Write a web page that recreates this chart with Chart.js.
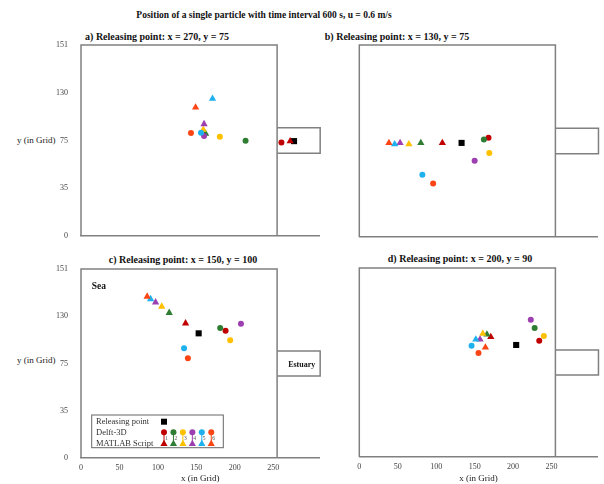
<!DOCTYPE html>
<html>
<head>
<meta charset="utf-8">
<script src="https://cdn.jsdelivr.net/npm/chart.js@4.4.1/dist/chart.umd.min.js"></script>
<style>
  body { margin: 0; background: #fff; }
  #page { position: relative; width: 604px; height: 484px; overflow: hidden; font-family: "Liberation Serif", "Times New Roman", serif; color: #111; }
  .lbl { position: absolute; width: 300px; text-align: center; line-height: 12px; white-space: nowrap; }
  .ttl { font-weight: bold; font-size: 10px; }
  .ylab { position: absolute; font-size: 9px; line-height: 12px; color: #222; white-space: nowrap; }
  canvas { position: absolute; }
</style>
</head>
<body>
<div id="page">
  <div class="lbl ttl" style="left:114px; top:9px; font-size:9.5px;">Position of a single particle with time interval 600 s, u = 0.6 m/s</div>
  <div class="lbl ttl" style="left:7px; top:31px;">a) Releasing point: x = 270, y = 75</div>
  <div class="lbl ttl" style="left:247px; top:31px;">b) Releasing point: x = 130, y = 75</div>
  <div class="lbl ttl" style="left:33px; top:254px;">c) Releasing point: x = 150, y = 100</div>
  <div class="lbl ttl" style="left:310px; top:253px;">d) Releasing point: x = 200, y = 90</div>
  <div class="ylab" style="left:17px; top:134px;">y (in Grid)</div>
  <div class="ylab" style="left:17px; top:354px;">y (in Grid)</div>

  <canvas id="chartA" width="330" height="210" style="left:0; top:40px;"></canvas>
  <canvas id="chartB" width="274" height="210" style="left:330px; top:40px;"></canvas>
  <canvas id="chartC" width="330" height="222" style="left:0; top:262px;"></canvas>
  <canvas id="chartD" width="274" height="222" style="left:330px; top:262px;"></canvas>
</div>

<script>
// particle colours 1..6
const particleColors = ["#c00000", "#2e7d32", "#ffc000", "#9c3fb0", "#1fb0ee", "#fb4515"];
const particleNumbers = ["1", "2", "3", "4", "5", "6"];

// y axis ticks are equally spaced but labelled like this in the original
const yTickLabels = ["0", "35", "75", "130", "151"];
const yMax = 151;
const xMax = 310;

// domain outline (sea box and estuary)
const boxX = [0, 0, 255, 255];
const boxY = [0, 151, 151, 0];
const estuaryX = [255, 311, 311, 255];
const estuaryY = [65.5, 65.5, 85.5, 85.5];

// a) releasing point x = 270, y = 75
const releaseA = [277, 75];
const delftAX = [260.6, 214, 180.5, 160, 156, 143];
const delftAY = [74, 75.3, 78.5, 79, 81.7, 81.4];
const matlabAX = [272, 162, 159, 160, 171, 149];
const matlabAY = [75, 81, 84, 88.5, 108.5, 101.7];

// b) releasing point x = 130, y = 75
const releaseB = [133, 74];
const delftBX = [168, 162, 169, 150, 82, 96];
const delftBY = [78, 76.6, 66, 60, 49, 42];
const matlabBX = [108, 80, 64.5, 53, 46, 38.5];
const matlabBY = [74, 74, 73, 74, 73, 74];

// c) releasing point x = 150, y = 100
const releaseC = [153, 99.6];
const delftCX = [188, 181, 194, 208, 134, 139];
const delftCY = [101.7, 103.8, 94, 107.3, 87.6, 79.6];
const matlabCX = [136, 114.7, 105, 97, 90.5, 86];
const matlabCY = [107.6, 116, 121, 124.4, 127, 129];

// d) releasing point x = 200, y = 90
const releaseD = [204, 89.5];
const delftDX = [234, 228, 240, 223, 146, 155];
const delftDY = [92.9, 103, 96.6, 109.7, 88.9, 83];
const matlabDX = [171, 166, 160.6, 157, 151.5, 164];
const matlabDY = [96, 98, 98.5, 94, 94, 87.6];

const outlineColor = "#808080";
const serif = "'Liberation Serif', 'Times New Roman', serif";

function toPoints(xs, ys){
  return xs.map((x, i) => ({ x: x, y: ys[i] }));
}

//text labels placed in data space (panel c only)
const areaLabels = {
  id: "areaLabels",
  afterDatasetsDraw(chart){
    const ctx = chart.ctx;
    const xs = chart.scales.x, ys = chart.scales.y;
    ctx.save();
    ctx.fillStyle = "#111";
    ctx.textBaseline = "middle";
    ctx.font = "bold 9.5px " + serif;
    ctx.textAlign = "left";
    ctx.fillText("Sea", xs.getPixelForValue(14), ys.getPixelForValue(136.6));
    ctx.font = "bold 8px " + serif;
    ctx.textAlign = "center";
    ctx.fillText("Estuary", xs.getPixelForValue(287), ys.getPixelForValue(74.3));
    ctx.restore();
  }
};

//custom legend box in panel c
const markerLegend = {
  id: "markerLegend",
  afterDraw(chart){
    const ctx = chart.ctx;
    const left = chart.chartArea.left + 10.7;
    const top = chart.chartArea.top + 146;
    const w = 131.6, h = 32.7;
    ctx.save();
    ctx.strokeStyle = "#666";
    ctx.lineWidth = 1;
    ctx.strokeRect(left, top, w, h);

    ctx.fillStyle = "#333";
    ctx.font = "8.5px " + serif;
    ctx.textAlign = "left";
    ctx.textBaseline = "middle";
    const rows = [top + 6.7, top + 17.3, top + 28.7];
    ctx.fillText("Releasing point", left + 4.3, rows[0]);
    ctx.fillText("Delft-3D", left + 4.3, rows[1]);
    ctx.fillText("MATLAB Script", left + 4.3, rows[2]);

    const mx0 = left + 72.3, step = 9.45;
    ctx.fillStyle = "#000";
    ctx.fillRect(mx0 - 3, rows[0] - 3, 6, 6);

    particleColors.forEach((c, i) => {
      const mx = mx0 + i * step;
      ctx.strokeStyle = c;
      ctx.lineWidth = 1;
      ctx.beginPath();
      ctx.moveTo(mx, rows[1]);
      ctx.lineTo(mx, rows[2]);
      ctx.stroke();
      ctx.fillStyle = c;
      ctx.beginPath();
      ctx.arc(mx, rows[1], 3, 0, Math.PI * 2);
      ctx.fill();
      ctx.beginPath();
      ctx.moveTo(mx, rows[2] - 4);
      ctx.lineTo(mx + 3.6, rows[2] + 2.3);
      ctx.lineTo(mx - 3.6, rows[2] + 2.3);
      ctx.closePath();
      ctx.fill();
      ctx.fillStyle = "#555";
      ctx.font = "5.5px " + serif;
      ctx.fillText(particleNumbers[i], mx + 1, (rows[1] + rows[2]) / 2 + 0.5);
    });
    ctx.restore();
  }
};

function makePanel(id, cfg){
  const ctx = document.getElementById(id).getContext("2d");
  return new Chart(ctx, {
    type: "scatter",
    data: {
      datasets: [
        {
          data: toPoints(boxX, boxY),
          showLine: true,
          borderColor: outlineColor,
          borderWidth: 1.5,
          pointRadius: 0,
          clip: false
        },
        {
          data: toPoints(estuaryX, estuaryY),
          showLine: true,
          borderColor: outlineColor,
          borderWidth: 1.5,
          pointRadius: 0,
          clip: false
        },
        {
          label: "Delft-3D",
          data: toPoints(cfg.delftX, cfg.delftY),
          pointStyle: "circle",
          pointRadius: 3,
          borderWidth: 0,
          backgroundColor: particleColors,
          clip: false
        },
        {
          label: "MATLAB Script",
          data: toPoints(cfg.matlabX, cfg.matlabY),
          pointStyle: "triangle",
          pointRadius: 4.2,
          borderWidth: 0,
          backgroundColor: particleColors,
          clip: false
        },
        {
          label: "Releasing point",
          data: [{ x: cfg.release[0], y: cfg.release[1] }],
          pointStyle: "rect",
          pointRadius: 4.3,
          borderWidth: 0,
          backgroundColor: "#000",
          clip: false
        }
      ]
    },
    options: {
      responsive: false,
      animation: false,
      devicePixelRatio: 1,
      layout: { padding: cfg.padding },
      plugins: {
        legend: { display: false },
        tooltip: { enabled: false }
      },
      scales: {
        x: {
          type: "linear",
          min: 0,
          max: xMax,
          afterBuildTicks: s => { s.ticks = s.ticks.filter(t => t.value % 50 === 0); },
          afterFit: s => { s.height = cfg.xHeight; },
          grid: { display: false, drawTicks: false },
          border: { display: true, color: outlineColor, width: 1.5 },
          ticks: {
            display: cfg.xTicks,
            stepSize: 50,
            padding: 5,
            color: "#444",
            font: { family: serif, size: 8 },
            maxRotation: 0
          },
          title: {
            display: cfg.xTicks,
            text: "x (in Grid)",
            color: "#222",
            font: { family: serif, size: 9 },
            padding: { top: 1, bottom: 0 }
          }
        },
        y: {
          type: "linear",
          min: 0,
          max: yMax,
          afterBuildTicks: s => {
            s.ticks = yTickLabels.map((_, i) => ({ value: yMax * i / (yTickLabels.length - 1) }));
          },
          afterFit: s => { s.width = cfg.yWidth; },
          grid: { display: false, drawTicks: true, tickLength: 13 },
          border: { display: false },
          ticks: {
            display: cfg.yTicks,
            padding: 0,
            color: "#444",
            font: { family: serif, size: 8 },
            callback: (v, i) => yTickLabels[i]
          }
        }
      }
    },
    plugins: cfg.plugins || []
  });
}

makePanel("chartA", {
  release: releaseA, delftX: delftAX, delftY: delftAY, matlabX: matlabAX, matlabY: matlabAY,
  padding: { top: 5, right: 10.6, left: 0, bottom: 0 }, yWidth: 81, xHeight: 14,
  xTicks: false, yTicks: true
});
makePanel("chartB", {
  release: releaseB, delftX: delftBX, delftY: delftBY, matlabX: matlabBX, matlabY: matlabBY,
  padding: { top: 5, right: 6.3, left: 0, bottom: 0 }, yWidth: 29.3, xHeight: 13,
  xTicks: false, yTicks: false
});
makePanel("chartC", {
  release: releaseC, delftX: delftCX, delftY: delftCY, matlabX: matlabCX, matlabY: matlabCY,
  padding: { top: 7, right: 10.6, left: 0, bottom: 0 }, yWidth: 81, xHeight: 26,
  xTicks: true, yTicks: true, plugins: [areaLabels, markerLegend]
});
makePanel("chartD", {
  release: releaseD, delftX: delftDX, delftY: delftDY, matlabX: matlabDX, matlabY: matlabDY,
  padding: { top: 6, right: 6.3, left: 0, bottom: 0 }, yWidth: 29.3, xHeight: 27,
  xTicks: true, yTicks: false
});
</script>
</body>
</html>
